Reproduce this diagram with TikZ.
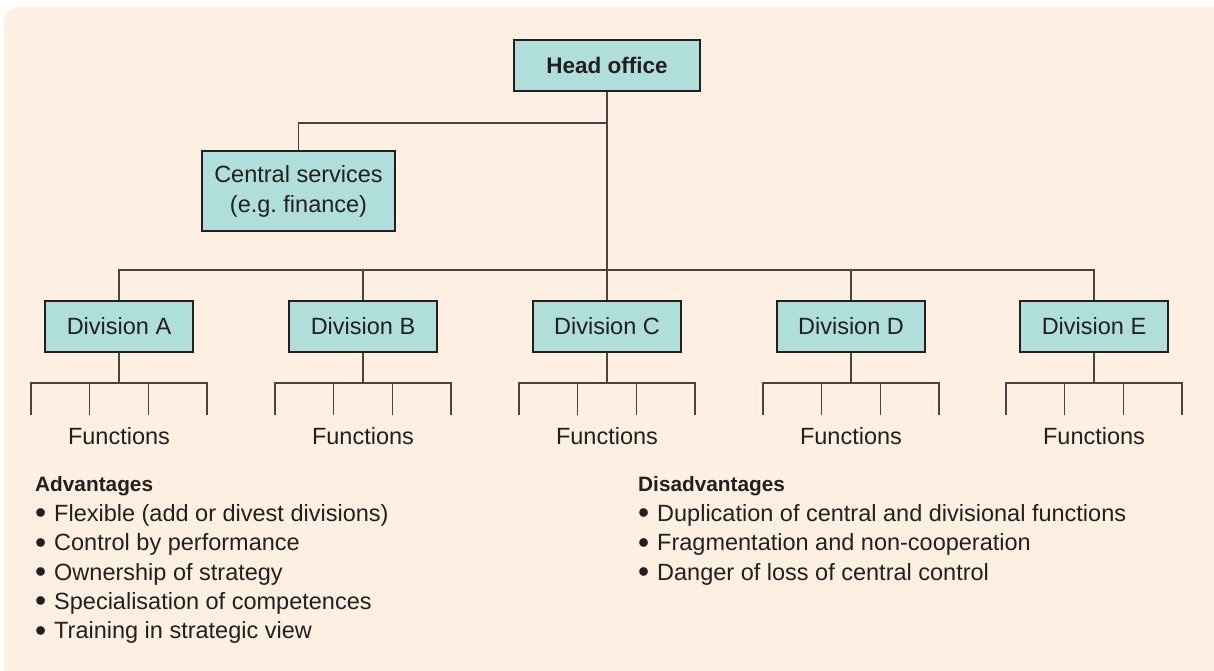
\documentclass[tikz,border=0pt]{standalone}
\usepackage{fontspec}
\setmainfont{Liberation Sans}
\definecolor{paper}{RGB}{253,240,226}
\definecolor{boxfill}{RGB}{176,222,219}
\definecolor{ink}{RGB}{35,31,32}
\definecolor{wire}{RGB}{72,68,68}
\newcommand{\bulletitem}[1]{\makebox[19pt][l]{\raisebox{-2.4pt}{\scalebox{1.35}{\textbullet}}}#1}
\begin{document}
\begin{tikzpicture}[x=1pt,y=-1pt,
  unitbox/.style={draw=ink, fill=boxfill, line width=1.2pt, minimum height=51pt,
    inner sep=0pt, text=ink, font=\fontsize{23.5}{30}\selectfont},
  divbox/.style={unitbox, minimum width=148pt},
  wire/.style={draw=wire, line width=1.3pt},
  label/.style={text=ink, font=\fontsize{23.5}{30}\selectfont, inner sep=0pt},
  heading/.style={label, font=\fontsize{20.8}{30}\selectfont\bfseries, anchor=west},
  item/.style={label, anchor=west}]
\useasboundingbox (0,0) rectangle (1214,670);
% panel
\fill[paper, rounded corners=16pt] (4,7) rectangle (1230,690);

% top of the hierarchy
\node[unitbox, minimum width=186pt, font=\fontsize{22.5}{30}\selectfont\bfseries] (head) at (607,65.5) {\raisebox{-1.5pt}{Head office}};
\node[unitbox, minimum width=193pt, minimum height=80pt, align=center] (central) at (298.5,191)
  {\raisebox{-1.5pt}{Central services}\\\raisebox{-1.5pt}{(e.g.\ finance)}};

% divisions
\foreach \n/\x in {A/119, B/363, C/607, D/851, E/1094} {
  \node[divbox] (div\n) at (\x,326.5) {Division \n};
  \node[label] (fun\n) at (\x,436) {Functions};
}

% connectors from head office
\coordinate (bus) at (607,270);
\coordinate (cs) at (607,123);
\draw[wire] (head.south) -- (bus);
\draw[wire] (cs) -| (central.north);
\draw[wire] (divA.north) |- (bus) -| (divE.north);
\foreach \n in {B,C,D} \draw[wire] (div\n.north |- bus) -- (div\n.north);

% function combs under each division
\foreach \n/\x in {A/119, B/363, C/607, D/851, E/1094} {
  \coordinate (comb\n) at (\x,383);
  \draw[wire] (div\n.south) -- (comb\n);
  \draw[wire] (\x-88,415) -- (\x-88,383) -- (\x+88,383) -- (\x+88,415);
  \draw[wire] (\x-29.3,383) -- (\x-29.3,415);
  \draw[wire] (\x+29.3,383) -- (\x+29.3,415);
}

% advantages
\node[heading] (advh) at (35,486) {Advantages};
\node[item] (adv1) at (35,515.5) {\bulletitem{Flexible (add or divest divisions)}};
\node[item] (adv2) at (35,544.8) {\bulletitem{Control by performance}};
\node[item] (adv3) at (35,574.1) {\bulletitem{Ownership of strategy}};
\node[item] (adv4) at (35,603.4) {\bulletitem{Specialisation of competences}};
\node[item] (adv5) at (35,632.7) {\bulletitem{Training in strategic view}};

% disadvantages
\node[heading] (dish) at (638,486) {Disadvantages};
\node[item] (dis1) at (638,515.5) {\bulletitem{Duplication of central and divisional functions}};
\node[item] (dis2) at (638,544.8) {\bulletitem{Fragmentation and non-cooperation}};
\node[item] (dis3) at (638,574.1) {\bulletitem{Danger of loss of central control}};
\end{tikzpicture}
\end{document}
